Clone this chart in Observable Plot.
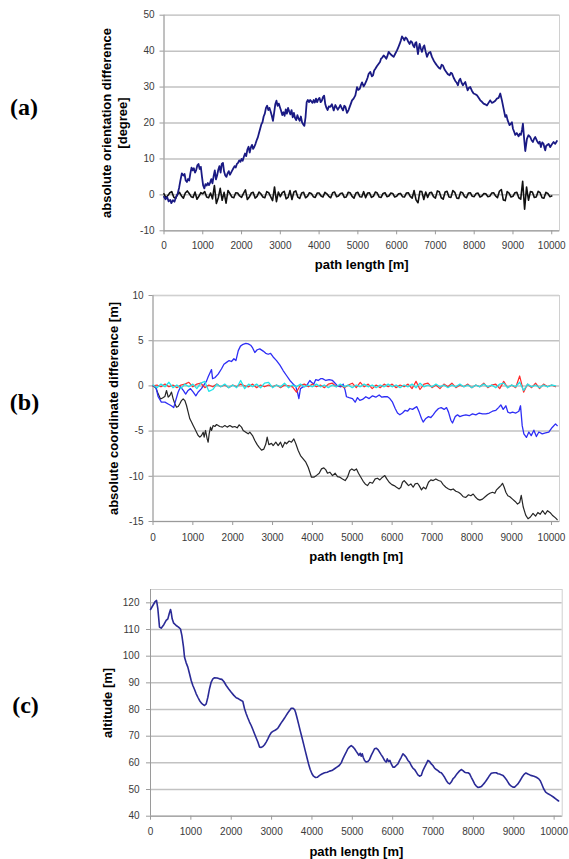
<!DOCTYPE html>
<html>
<head>
<meta charset="utf-8">
<script src="https://cdn.jsdelivr.net/npm/d3@7"></script>
<script src="https://cdn.jsdelivr.net/npm/@observablehq/plot@0.6"></script>
<style>
  html, body { margin: 0; padding: 0; background: #ffffff; }
  #wrap { position: relative; width: 569px; height: 859px; overflow: hidden; background: #ffffff; }
  .panel { position: absolute; left: 0; }
</style>
</head>
<body>
<div id="wrap">
  <div class="panel" id="pa" style="top:0px"></div>
  <div class="panel" id="pb" style="top:285px"></div>
  <div class="panel" id="pc" style="top:570px"></div>
</div>
<script>
// ---------- shared axis data ----------
const xDomain = [0, 10200];
const xTicks = [0, 1000, 2000, 3000, 4000, 5000, 6000, 7000, 8000, 9000, 10000];
const xTitle = "path length [m]";

// ---------- panel (a): absolute orientation difference ----------
const aYDomain = [-10, 50];
const aYTicks = [-10, 0, 10, 20, 30, 40, 50];
const aYTitle = "absolute orientation difference\n[degree]";
// blue: [path length, degree]
const aBlue = [
  [0,-0.5],[40,-1.2],[80,-0.6],[120,-1.8],[160,-1.4],[190,-2.3],[230,-1.5],[270,-1.9],[310,-0.6],[350,0.2],
  [390,2.0],[420,3.8],[460,6.0],[500,5.4],[530,5.8],[560,4.0],[590,3.6],[620,4.4],[650,4.0],[680,6.0],
  [710,7.6],[740,6.8],[770,7.4],[800,6.2],[830,6.9],[860,8.2],[890,8.6],[920,7.2],[950,7.8],[980,5.0],
  [1010,2.6],[1040,1.8],[1070,3.0],[1100,2.6],[1130,3.3],[1160,2.7],[1190,3.4],[1220,4.4],[1250,3.2],[1280,5.2],
  [1310,6.8],[1340,4.3],[1370,5.4],[1400,7.0],[1430,8.0],[1460,6.2],[1490,8.6],[1520,8.9],[1550,6.5],[1580,5.4],
  [1610,5.0],[1640,6.0],[1670,6.6],[1700,5.6],[1730,6.2],[1760,6.8],[1790,7.4],[1820,8.0],[1850,7.6],[1880,8.6],
  [1910,8.9],[1940,9.6],[1970,9.2],[2000,10.0],[2030,9.5],[2060,10.6],[2090,11.5],[2120,10.8],[2150,12.6],[2180,13.4],
  [2210,11.8],[2240,13.2],[2270,13.9],[2300,12.8],[2330,13.4],[2360,14.2],[2390,15.2],[2420,16.0],[2450,17.2],[2480,18.4],
  [2510,19.6],[2540,20.2],[2570,21.8],[2600,22.6],[2630,24.2],[2660,24.8],[2690,23.6],[2720,24.2],[2750,23.2],[2780,22.0],
  [2810,20.6],[2840,22.8],[2870,25.2],[2900,26.2],[2930,24.8],[2960,25.4],[2990,24.4],[3020,23.4],[3050,22.2],[3080,23.0],
  [3110,22.0],[3140,23.8],[3170,22.6],[3200,24.2],[3230,23.2],[3260,22.4],[3290,23.6],[3320,21.6],[3350,22.8],[3380,21.4],
  [3410,20.8],[3440,22.2],[3470,21.2],[3500,20.6],[3530,21.8],[3560,20.2],[3590,19.6],[3620,19.2],[3650,21.6],[3680,25.8],
  [3710,26.4],[3740,25.8],[3770,26.4],[3800,26.0],[3830,25.6],[3860,26.4],[3890,25.7],[3920,26.8],[3950,25.8],[3980,26.6],
  [4010,27.0],[4040,25.8],[4070,26.2],[4100,27.2],[4130,27.6],[4160,25.2],[4190,24.2],[4220,23.6],[4250,24.6],[4291,24.5],
  [4330,25.2],[4377,23.5],[4420,25.0],[4480,23.7],[4520,24.4],[4549,25.0],[4590,24.0],[4617,23.5],[4650,24.8],[4678,24.5],
  [4721,22.8],[4760,23.6],[4789,24.5],[4820,25.4],[4849,26.3],[4890,26.8],[4935,27.7],[4978,30.0],[5010,29.2],[5047,29.5],
  [5080,30.6],[5107,31.3],[5150,30.2],[5190,31.0],[5219,31.7],[5250,32.6],[5279,33.7],[5322,34.2],[5360,33.0],[5391,33.3],
  [5420,34.6],[5451,35.1],[5490,35.8],[5537,36.5],[5570,37.0],[5597,37.9],[5630,38.2],[5665,38.8],[5700,38.4],[5734,37.9],
  [5760,38.6],[5794,39.8],[5837,39.2],[5880,38.8],[5923,38.4],[5960,39.2],[6009,40.2],[6040,41.0],[6078,42.0],[6110,43.0],
  [6138,44.1],[6170,43.6],[6198,43.0],[6230,43.8],[6267,43.4],[6300,42.6],[6335,42.0],[6365,42.8],[6395,42.5],[6425,41.6],
  [6456,41.1],[6480,42.2],[6507,42.5],[6530,40.6],[6550,39.2],[6575,41.0],[6593,42.0],[6620,40.8],[6653,39.8],[6690,41.2],
  [6713,41.6],[6745,40.0],[6782,38.4],[6820,39.4],[6868,39.8],[6910,38.4],[6954,37.4],[7000,36.6],[7040,36.0],[7085,35.4],
  [7126,35.1],[7160,36.2],[7194,36.0],[7240,34.8],[7280,34.2],[7320,33.6],[7366,33.3],[7400,34.0],[7427,33.8],[7470,32.6],
  [7512,31.7],[7550,31.2],[7581,30.5],[7610,31.8],[7641,32.3],[7675,31.2],[7710,30.5],[7740,31.0],[7770,31.4],[7800,30.2],
  [7830,29.1],[7865,29.8],[7899,30.0],[7940,29.0],[7985,28.2],[8030,28.0],[8071,27.7],[8115,27.0],[8157,26.3],[8200,25.9],
  [8242,25.4],[8285,25.2],[8328,24.9],[8370,25.6],[8414,26.3],[8455,25.6],[8500,25.8],[8545,26.2],[8586,26.8],[8630,27.0],
  [8672,28.2],[8715,26.3],[8758,24.0],[8801,21.7],[8831,22.2],[8861,20.8],[8890,20.0],[8912,19.4],[8945,19.8],[8973,20.2],
  [9000,18.4],[9033,17.5],[9059,16.7],[9100,17.2],[9145,16.3],[9175,17.0],[9205,16.7],[9235,18.2],[9257,19.8],[9285,16.0],
  [9317,12.2],[9340,14.0],[9360,15.6],[9400,16.6],[9446,16.1],[9480,15.2],[9514,14.7],[9545,15.6],[9575,16.1],[9620,15.0],
  [9661,14.3],[9690,14.8],[9720,13.3],[9755,14.6],[9789,14.2],[9810,13.2],[9832,12.4],[9855,13.6],[9875,13.8],[9920,14.2],
  [9961,13.3],[10000,14.0],[10047,14.7],[10090,14.2],[10133,15.0]
];
// black: sampled every 50 m from 0 to 10000
const aBlackStep = 50;
const aBlack = [
  0.3,-0.8,-0.2,0.6,0.9,-0.6,-1.0,0.2,0.7,-0.3,-0.9,0.5,1.1,0.4,-0.5,-0.7,0.8,-1.2,-0.4,0.6,
  0.3,0.9,-0.6,-0.8,0.5,-1.1,2.6,-2.4,-0.8,1.8,-1.5,0.7,-2.3,1.2,0.4,-0.6,-0.8,0.6,0.5,-0.3,
  -0.7,0.4,1.4,-1.3,-0.6,0.5,0.7,-0.9,-0.4,0.8,0.3,-0.6,-0.8,0.9,0.6,-0.5,-1.6,2.2,-1.9,0.8,
  -0.5,0.6,1.0,-1.1,-0.7,1.2,-1.3,0.8,1.1,-0.6,-1.0,0.5,0.7,-0.8,-0.4,0.6,0.4,-0.5,-0.7,0.5,
  0.5,-0.3,-0.6,0.7,0.3,-0.4,-0.8,0.6,0.8,-0.5,-0.3,0.4,0.5,-0.7,-0.6,0.7,0.6,-0.4,-0.9,0.5,
  0.7,-0.5,-0.6,0.9,-0.8,0.5,0.6,-0.7,-0.4,0.8,0.5,-0.6,-0.7,0.4,0.6,-0.5,-0.3,0.5,0.4,-0.6,
  -0.4,0.3,0.4,-0.5,-0.6,0.5,0.6,-0.4,-0.9,1.2,-1.4,-2.2,1.0,0.9,-1.3,0.8,-0.7,0.6,0.7,-0.5,
  -0.9,1.1,0.9,-0.8,-1.2,0.8,1.0,-0.6,-0.7,1.2,0.7,-0.9,-1.0,0.8,0.6,-0.5,-0.8,0.5,0.6,-0.4,
  -0.5,0.4,0.5,-0.6,-0.3,0.4,0.3,-0.5,-0.4,0.5,0.6,-0.3,-0.8,1.0,1.5,-1.4,-1.6,0.9,0.5,-0.6,
  -0.4,0.6,0.7,-0.8,-1.2,3.8,-4.0,2.2,-1.5,0.9,0.8,-0.7,-0.6,1.0,0.6,-0.8,-0.9,0.7,0.4,-0.5,
  -0.3
];

// ---------- panel (b): absolute coordinate difference ----------
const bYDomain = [-15, 10];
const bYTicks = [-15, -10, -5, 0, 5, 10];
const bYTitle = "absolute coordinate difference [m]";
const bBlue = [
  [0,0],[70,-0.1],[130,-1.2],[210,-1.8],[300,-1.8],[380,-2.0],[460,-2.2],[520,-2.4],[570,-1.6],[630,-0.7],
  [690,-0.1],[760,-0.5],[820,-0.9],[880,-0.5],[940,-0.3],[1010,-0.7],[1075,-1.1],[1130,-0.7],[1215,-0.3],[1260,0.0],
  [1340,0.5],[1385,1.0],[1425,1.4],[1468,1.8],[1495,0.8],[1550,0.9],[1635,1.3],[1720,1.9],[1780,2.4],[1845,2.6],
  [1910,2.8],[1970,2.7],[2030,3.0],[2080,2.8],[2140,3.9],[2195,4.4],[2260,4.6],[2330,4.7],[2390,4.65],[2450,4.5],
  [2500,4.2],[2555,3.7],[2615,4.0],[2680,4.1],[2765,3.85],[2830,3.6],[2890,3.5],[2950,3.6],[3015,3.2],[3100,2.8],
  [3185,2.3],[3265,1.7],[3350,1.15],[3435,0.6],[3520,0.2],[3585,-0.1],[3625,-0.7],[3660,-1.4],[3700,-0.3],[3770,-0.1],
  [3850,0.0],[3935,0.6],[3975,0.4],[4035,0.2],[4085,0.7],[4145,0.6],[4205,0.8],[4253,0.8],[4337,0.6],[4420,0.7],
  [4504,0.6],[4546,0.4],[4629,0.0],[4713,-0.1],[4772,0.2],[4822,-0.5],[4855,-1.2],[4922,-1.3],[5006,-1.4],[5073,-1.8],
  [5131,-1.3],[5190,-1.6],[5257,-1.5],[5340,-1.2],[5424,-1.4],[5508,-1.1],[5591,-1.25],[5675,-1.0],[5742,-1.25],[5800,-1.2],
  [5884,-1.2],[5943,-1.4],[6010,-1.8],[6077,-2.5],[6135,-3.0],[6194,-3.2],[6260,-3.0],[6327,-2.7],[6386,-2.8],[6445,-2.5],
  [6512,-2.6],[6578,-2.4],[6620,-2.3],[6679,-2.9],[6737,-3.6],[6779,-4.0],[6846,-3.6],[6913,-3.4],[6972,-3.5],[7030,-3.2],
  [7097,-2.8],[7164,-2.5],[7231,-2.4],[7306,-2.6],[7365,-2.4],[7415,-2.9],[7474,-3.8],[7515,-4.1],[7582,-3.4],[7641,-3.2],
  [7699,-3.4],[7766,-3.3],[7850,-3.2],[7934,-3.3],[8017,-3.1],[8101,-3.2],[8185,-3.0],[8268,-3.1],[8352,-3.1],[8436,-3.0],
  [8519,-2.8],[8603,-2.7],[8670,-2.4],[8728,-2.1],[8787,-2.6],[8854,-2.2],[8904,-2.9],[8954,-3.0],[9021,-2.9],[9105,-3.0],
  [9180,-2.8],[9222,-2.2],[9264,-4.4],[9306,-5.3],[9370,-5.7],[9431,-5.1],[9490,-5.5],[9557,-4.9],[9620,-5.6],[9682,-5.1],
  [9766,-5.3],[9850,-5.2],[9933,-5.1],[10017,-4.6],[10100,-4.2],[10142,-4.4]
];
const bBlack = [
  [4,0],[71,-0.2],[130,-0.88],[188,-1.44],[238,-1.33],[297,-1.18],[339,-0.51],[381,-1.25],[422,-1.06],[464,-0.69],
  [506,-1.43],[548,-1.98],[590,-2.35],[632,-2.28],[673,-1.98],[715,-1.62],[757,-1.43],[799,-1.62],[841,-2.17],[882,-2.9],
  [924,-3.64],[966,-4.0],[1008,-4.38],[1050,-4.75],[1092,-5.12],[1133,-5.49],[1175,-5.67],[1217,-5.49],[1259,-5.12],[1284,-5.67],
  [1317,-4.93],[1359,-5.86],[1384,-6.23],[1409,-5.3],[1443,-4.56],[1468,-4.93],[1510,-4.38],[1552,-4.49],[1594,-4.27],[1677,-4.49],
  [1744,-4.56],[1803,-4.38],[1861,-4.56],[1928,-4.38],[1995,-4.56],[2053,-4.49],[2112,-4.64],[2162,-4.31],[2221,-4.56],[2263,-4.93],
  [2329,-5.12],[2388,-5.3],[2430,-5.12],[2497,-5.49],[2555,-6.04],[2614,-6.5],[2664,-6.8],[2723,-7.1],[2781,-6.99],[2831,-6.43],
  [2865,-5.67],[2907,-6.5],[2974,-6.36],[3015,-6.6],[3082,-6.23],[3141,-6.6],[3200,-6.23],[3250,-6.8],[3308,-6.23],[3350,-6.4],
  [3417,-6.1],[3475,-6.23],[3534,-5.86],[3584,-6.4],[3643,-7.15],[3701,-7.7],[3768,-8.07],[3835,-8.44],[3894,-9.0],[3936,-9.55],
  [3977,-10.1],[4036,-10.1],[4103,-9.9],[4170,-9.66],[4228,-9.18],[4287,-9.07],[4337,-9.29],[4378,-9.66],[4437,-9.55],[4504,-9.92],
  [4571,-9.66],[4629,-10.03],[4688,-10.1],[4755,-10.29],[4822,-10.47],[4880,-10.1],[4939,-9.36],[4989,-9.18],[5048,-9.36],[5106,-9.18],
  [5156,-9.66],[5215,-10.1],[5274,-10.55],[5324,-10.84],[5382,-11.03],[5441,-10.66],[5508,-10.77],[5575,-10.29],[5633,-10.21],[5692,-10.4],
  [5759,-10.1],[5817,-9.92],[5867,-10.29],[5926,-10.66],[5993,-10.92],[6051,-11.03],[6110,-11.21],[6177,-11.4],[6219,-11.21],[6260,-10.66],
  [6302,-10.47],[6361,-10.77],[6411,-11.03],[6470,-10.84],[6528,-11.21],[6578,-10.84],[6637,-10.77],[6679,-11.03],[6737,-11.5],[6788,-11.21],
  [6846,-11.4],[6913,-10.66],[6972,-10.4],[7030,-10.47],[7097,-10.29],[7164,-10.47],[7223,-10.55],[7281,-10.92],[7348,-11.21],[7415,-11.4],
  [7474,-11.5],[7532,-11.4],[7599,-11.66],[7666,-11.77],[7725,-11.96],[7783,-12.26],[7850,-12.33],[7917,-12.04],[7975,-12.15],[8034,-11.96],
  [8084,-12.26],[8143,-12.52],[8201,-12.63],[8268,-12.52],[8335,-12.26],[8394,-12.04],[8452,-11.88],[8519,-11.77],[8578,-11.88],[8620,-11.5],
  [8686,-11.21],[8728,-11.03],[8770,-10.77],[8812,-11.21],[8854,-11.77],[8904,-12.15],[8954,-12.26],[9021,-12.52],[9088,-12.78],[9147,-13.07],
  [9200,-12.9],[9240,-12.1],[9290,-13.4],[9352,-14.3],[9410,-14.7],[9470,-14.5],[9536,-14.1],[9600,-14.4],[9657,-14.0],[9715,-14.2],
  [9775,-13.8],[9840,-14.2],[9900,-13.8],[9960,-14.0],[10020,-14.3],[10100,-14.6],[10142,-14.8]
];
// red and cyan: sampled every 100 m from 0 to 10100
const bNoiseStep = 100;
const bRed = [
  0.0,0.1,-0.1,0.2,-0.1,0.1,-0.2,0.1,0.2,0.4,
  -0.1,0.2,0.3,-0.2,0.1,-0.1,0.2,-0.1,0.1,-0.2,
  0.1,-0.1,0.2,0.0,-0.1,0.2,-0.2,0.1,-0.1,0.1,
  -0.1,0.1,-0.2,0.1,0.0,-0.1,-0.7,0.1,0.2,-0.1,
  0.2,-0.1,0.1,-0.2,0.2,0.3,-0.1,0.1,-0.2,0.1,
  0.3,-0.2,0.4,-0.1,0.2,-0.3,0.1,-0.2,0.2,-0.1,
  0.2,-0.2,0.1,-0.1,0.2,-0.3,0.5,-0.4,0.2,0.3,
  -0.2,0.1,-0.3,0.2,-0.1,0.3,-0.2,0.1,-0.1,0.2,
  -0.2,0.1,-0.1,0.3,-0.2,0.1,0.2,-0.3,0.5,-0.2,
  0.1,-0.2,1.1,-0.7,0.2,-0.2,0.3,-0.3,0.2,-0.1,
  0.1,-0.1
];
const bCyan = [
  0.1,-0.2,0.2,-0.1,0.4,-0.2,0.1,-0.3,0.2,-0.1,
  0.2,-0.3,0.3,0.5,-0.6,-0.4,0.2,-0.1,0.2,-0.2,
  0.1,-0.2,0.6,-0.3,0.2,-0.1,0.2,-0.2,0.3,0.4,
  -0.2,0.1,-0.1,0.3,-0.2,0.1,-0.1,0.2,-0.1,0.1,
  -0.1,0.2,-0.1,0.1,-0.2,0.1,-0.1,0.2,-0.1,0.1,
  -0.2,0.1,-0.1,0.2,-0.1,0.1,-0.2,0.1,-0.1,0.2,
  -0.1,0.1,-0.2,0.1,-0.1,0.2,-0.2,0.3,-0.1,0.1,
  -0.1,0.2,-0.1,0.1,-0.2,0.1,-0.1,0.2,-0.1,0.1,
  -0.2,0.1,-0.1,0.2,-0.1,0.1,-0.2,0.2,0.3,-0.2,
  0.1,-0.1,0.4,-0.5,0.2,-0.1,0.1,-0.2,0.1,-0.1,
  0.1,0.0
];

// ---------- panel (c): altitude ----------
const cYDomain = [40, 125];
const cYTicks = [40, 50, 60, 70, 80, 90, 100, 110, 120];
const cYTitle = "altitude [m]";
const cAltitude = [
  [0,117.5],[58,119],[116,120.5],[149,120.9],[182,117.8],[223,110.9],[264,110.5],[330,111.8],[388,113.4],[430,114],
  [463,115.9],[496,117.5],[512,116.5],[537,114],[570,112.5],[636,111.5],[694,110.9],[743,110.2],[777,107.8],[818,103.4],
  [843,99.6],[884,97.5],[925,95.9],[967,93.4],[1008,90.9],[1049,89],[1091,87.5],[1132,85.9],[1173,84.6],[1214,83.4],
  [1256,82.5],[1297,81.9],[1338,81.5],[1380,82.1],[1421,84.6],[1462,87.8],[1504,90.3],[1545,91.5],[1586,91.9],[1652,91.8],
  [1710,91.5],[1768,91.3],[1817,90.5],[1875,89],[1933,87.8],[2000,86.5],[2065,85.3],[2123,84.4],[2181,84],[2247,83.4],
  [2288,83],[2330,80.3],[2371,78.4],[2412,76.8],[2453,75.3],[2495,74],[2536,72.5],[2577,70.9],[2619,69.3],[2660,67.8],
  [2701,65.9],[2743,65.8],[2784,66.1],[2825,66.8],[2866,67.8],[2908,69],[2949,70.3],[2990,71.3],[3032,71.8],[3073,72.1],
  [3114,72.5],[3156,73],[3197,74],[3238,75],[3280,75.9],[3321,76.8],[3362,77.8],[3404,78.8],[3445,79.6],[3486,80.5],
  [3528,80.5],[3569,80],[3594,79],[3627,77.1],[3668,74.6],[3709,72.1],[3751,69.6],[3792,67.1],[3833,64.6],[3874,62.1],
  [3916,59.6],[3957,57.5],[4000,55.9],[4040,55],[4089,54.5],[4131,54.6],[4189,55.3],[4246,55.8],[4313,56.3],[4378,56.5],
  [4436,56.9],[4494,57.1],[4560,57.8],[4618,58.4],[4676,59],[4725,60],[4766,61.5],[4808,62.8],[4849,64],[4890,65.3],
  [4932,66],[4973,66.5],[5014,66],[5056,65.3],[5097,64.3],[5138,63.4],[5163,62.8],[5196,63.6],[5221,62.5],[5246,63.4],
  [5270,62.1],[5304,60.9],[5345,60.3],[5386,60.5],[5428,61.3],[5469,62.8],[5510,64],[5551,65.3],[5593,65.5],[5634,65],
  [5675,64],[5717,63],[5758,62.1],[5799,60.9],[5841,60.3],[5865,61.5],[5898,60.5],[5932,60.9],[5965,59.6],[6006,58.4],
  [6047,58.4],[6088,59],[6130,59.6],[6171,60.9],[6212,62.1],[6254,63.4],[6295,62.8],[6336,62.1],[6378,60.9],[6419,60.3],
  [6460,59],[6501,58],[6543,57.5],[6584,56.5],[6625,55.5],[6667,55],[6708,55.3],[6749,57.1],[6791,58.4],[6832,59.6],
  [6873,60.9],[6914,60.5],[6956,59.6],[6997,59],[7038,58],[7080,57.5],[7121,57.1],[7162,56.5],[7204,56.3],[7245,55.5],
  [7286,54.6],[7328,53.4],[7369,52.5],[7410,52.1],[7452,52.8],[7493,54],[7534,54.6],[7575,55.5],[7617,56.3],[7658,57],
  [7699,57.5],[7741,57.1],[7782,56.5],[7823,56.3],[7864,56.3],[7906,55.9],[7947,54.6],[7988,53.4],[8030,52.1],[8071,51.3],
  [8112,50.8],[8154,50.9],[8195,51.1],[8236,51.8],[8277,52.5],[8319,53.4],[8360,54.3],[8401,55.3],[8443,56.1],[8508,56.3],
  [8567,56.3],[8608,55.9],[8649,55.8],[8691,55.5],[8732,55.3],[8773,54.6],[8815,53.8],[8856,52.8],[8897,51.8],[8939,51.3],
  [8980,50.9],[9021,50.9],[9063,51.5],[9104,52.1],[9150,53.2],[9200,54.5],[9250,55.6],[9300,56.2],[9350,55.8],[9420,55.3],
  [9500,55],[9560,54.6],[9620,54],[9660,53.2],[9700,51.8],[9740,50.3],[9790,49],[9850,48.4],[9920,47.8],[9980,47.2],
  [10040,46.5],[10110,45.7]
];

// ---------- helpers ----------
const fmt = d => String(d);
const pairs = arr => arr.map(([x, y]) => ({x, y}));
const stepped = (arr, step) => arr.map((y, i) => ({x: i * step, y}));

function panel(o) {
  return Plot.plot({
    width: 569,
    height: o.height,
    marginLeft: o.mL, marginRight: o.mR, marginTop: o.mT, marginBottom: o.mB,
    style: {fontFamily: "'Liberation Sans', Arial, sans-serif", fontSize: "10px", background: "#ffffff", color: "#3a3a3a", overflow: "visible"},
    x: {domain: xDomain},
    y: {domain: o.yDomain},
    marks: [
      Plot.gridY(o.yTicks, {stroke: "#c2c2c2", strokeOpacity: 1, strokeWidth: 1.5}),
      Plot.frame({stroke: "#d0d0d0", strokeWidth: 1}),
      Plot.ruleX([xDomain[0]], {stroke: "#9a9a9a", strokeWidth: 1}),
      Plot.ruleY([o.yDomain[0]], {stroke: "#9a9a9a", strokeWidth: 1}),
      Plot.axisY(o.yTicks, {tickSize: 4, tickPadding: o.padY, tickFormat: fmt, label: null, stroke: "#9a9a9a", fill: "#3a3a3a"}),
      Plot.axisX(xTicks, {tickSize: 4, tickPadding: o.padX, tickFormat: fmt, label: null, stroke: "#9a9a9a", fill: "#3a3a3a"}),
      ...o.lines.map(l => Plot.line(l.data, {x: "x", y: "y", stroke: l.color, strokeWidth: l.width, strokeLinejoin: "round", curve: "linear"})),
      Plot.text([o.letter], {frameAnchor: "left", dx: o.letterDx, dy: o.letterDy, textAnchor: "middle", lineAnchor: "middle",
        fontFamily: "'Liberation Serif', 'Times New Roman', serif", fontWeight: "bold", fontSize: 24, fill: "#000"}),
      Plot.text([o.yTitle], {frameAnchor: "left", dx: o.yTitleDx, rotate: -90, textAnchor: "middle", lineAnchor: "middle",
        lineHeight: 1.28, fontWeight: "bold", fontSize: 13, fill: "#000"}),
      Plot.text([xTitle], {frameAnchor: "bottom", dy: o.xTitleDy, textAnchor: "middle", lineAnchor: "middle",
        fontWeight: "bold", fontSize: 13, fill: "#000"})
    ]
  });
}

document.getElementById("pa").appendChild(panel({
  height: 285, mL: 163.5, mR: 10, mT: 14.7, mB: 54.7,
  yDomain: aYDomain, yTicks: aYTicks, padX: 7, padY: 5.5,
  lines: [
    {data: stepped(aBlack, aBlackStep), color: "#111111", width: 1.6},
    {data: pairs(aBlue), color: "#1a1a84", width: 1.8}
  ],
  letter: "(a)", letterDx: -140, letterDy: -15.5,
  yTitle: aYTitle, yTitleDx: -50.2, xTitleDy: 33.7
}));

document.getElementById("pb").appendChild(panel({
  height: 285, mL: 152.5, mR: 10, mT: 10, mB: 49,
  yDomain: bYDomain, yTicks: bYTicks, padX: 8, padY: 5.5,
  lines: [
    {data: pairs(bBlack), color: "#262626", width: 1.2},
    {data: pairs(bBlue), color: "#2e2ef5", width: 1.3},
    {data: stepped(bRed, bNoiseStep), color: "#ff2a2a", width: 1.2},
    {data: stepped(bCyan, bNoiseStep), color: "#22e4ea", width: 1.3}
  ],
  letter: "(b)", letterDx: -128.5, letterDy: -6.3,
  yTitle: bYTitle, yTitleDx: -40, xTitleDy: 35.7
}));

document.getElementById("pc").appendChild(panel({
  height: 289, mL: 150, mR: 7.3, mT: 19, mB: 43.3,
  yDomain: cYDomain, yTicks: cYTicks, padX: 8, padY: 7,
  lines: [
    {data: pairs(cAltitude), color: "#2a2a96", width: 1.6}
  ],
  letter: "(c)", letterDx: -125, letterDy: 2.6,
  yTitle: cYTitle, yTitleDx: -44, xTitleDy: 36
}));
</script>
</body>
</html>
